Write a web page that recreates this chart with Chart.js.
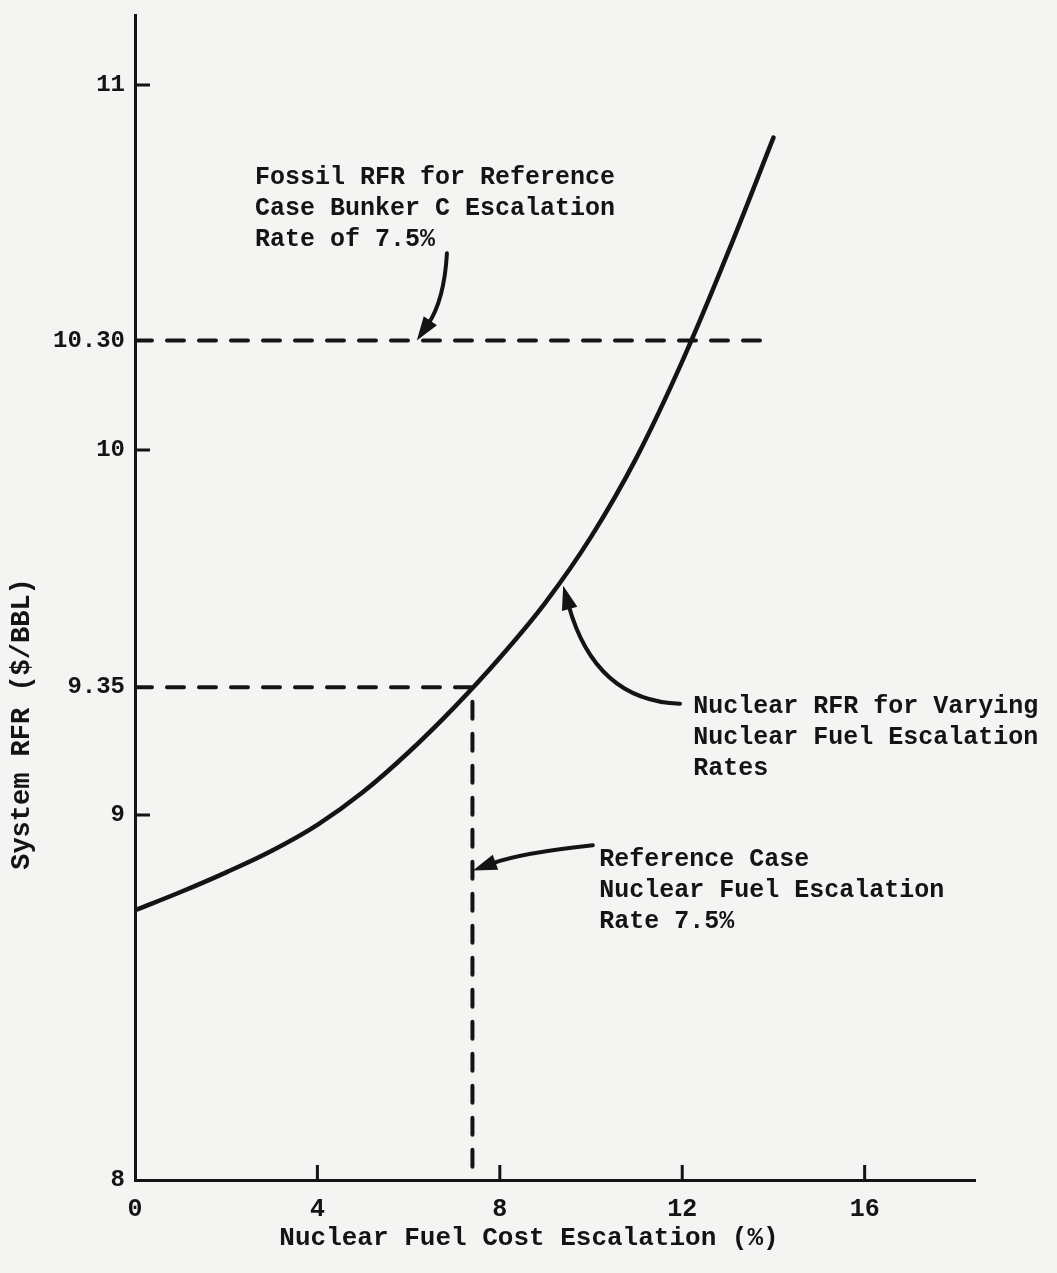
<!DOCTYPE html>
<html>
<head>
<meta charset="utf-8">
<script src="https://cdn.jsdelivr.net/npm/chart.js@4.4.1/dist/chart.umd.min.js"></script>
<style>
  html, body { margin: 0; padding: 0; background: #f4f4f2; }
  canvas { display: block; }
</style>
</head>
<body>
<canvas id="rfr-chart" width="1057" height="1273"></canvas>
<script>
// Nuclear RFR curve
const escalation = [0, 1, 2, 3, 4, 5, 6, 7, 8, 9, 10, 11, 12, 13, 14];
const nuclearRFR = [8.739, 8.789, 8.843, 8.902, 8.973, 9.063, 9.172, 9.295, 9.431, 9.582, 9.762, 9.98, 10.243, 10.54, 10.856];

// Fossil reference line (10.30 $/BBL)
const fossilSpan = [0, 13.9];
const fossilRFR = [10.30, 10.30];

// Reference case crossing
const refPathX = [0, 7.4, 7.4];
const refPathY = [9.35, 9.35, 8];

// Axis ticks
const xTicks = [0, 4, 8, 12, 16];
const xTickMarks = [4, 8, 12, 16];
const yTicks = [8, 9, 9.35, 10, 10.30, 11];
const yTickLabels = ['8', '9', '9.35', '10', '10.30', '11'];
const yTickMarks = [9, 10, 11];

const xTitle = 'Nuclear Fuel Cost Escalation (%)';
const yTitle = 'System RFR ($/BBL)';

// Notes and arrows (data coordinates)
const notes = [
    { lines: ['Fossil RFR for Reference', 'Case Bunker C Escalation', 'Rate of 7.5%'], x: 2.63, y: 10.73 },
    { lines: ['Nuclear RFR for Varying', 'Nuclear Fuel Escalation', 'Rates'], x: 12.24, y: 9.28 },
    { lines: ['Reference Case', 'Nuclear Fuel Escalation', 'Rate 7.5%'], x: 10.18, y: 8.86 }
];
const arrows = [
    { from: [6.84, 10.539], ctrl: [6.78, 10.41], to: [6.18, 10.30] },
    { from: [11.95, 9.305], ctrl: [10.09, 9.313], to: [9.39, 9.628] },
    { from: [10.04, 8.917], ctrl: [8.46, 8.896], to: [7.41, 8.848] }
];

const INK = '#141414';
const FONT = "'Liberation Mono', 'DejaVu Sans Mono', monospace";

const figurePlugin = {
    id: 'figureDecor',
    afterDraw(chart) {
        const ctx = chart.ctx;
        const xs = chart.scales.x;
        const ys = chart.scales.y;
        const area = chart.chartArea;
        ctx.save();
        ctx.strokeStyle = INK;
        ctx.fillStyle = INK;

        // inward tick marks
        ctx.lineWidth = 3;
        ctx.beginPath();
        xTickMarks.forEach(v => {
            const px = xs.getPixelForValue(v);
            ctx.moveTo(px, area.bottom);
            ctx.lineTo(px, area.bottom - 15);
        });
        yTickMarks.forEach(v => {
            const py = ys.getPixelForValue(v);
            ctx.moveTo(area.left, py);
            ctx.lineTo(area.left + 15, py);
        });
        ctx.stroke();

        // arrows
        arrows.forEach(a => {
            const p0 = [xs.getPixelForValue(a.from[0]), ys.getPixelForValue(a.from[1])];
            const c = [xs.getPixelForValue(a.ctrl[0]), ys.getPixelForValue(a.ctrl[1])];
            const p2 = [xs.getPixelForValue(a.to[0]), ys.getPixelForValue(a.to[1])];
            const ang = Math.atan2(p2[1] - c[1], p2[0] - c[0]);
            const len = 24, half = 8;
            const bx = p2[0] - Math.cos(ang) * (len - 4);
            const by = p2[1] - Math.sin(ang) * (len - 4);
            ctx.lineWidth = 4;
            ctx.lineCap = 'round';
            ctx.beginPath();
            ctx.moveTo(p0[0], p0[1]);
            ctx.quadraticCurveTo(c[0], c[1], bx, by);
            ctx.stroke();
            ctx.beginPath();
            ctx.moveTo(p2[0], p2[1]);
            ctx.lineTo(p2[0] - Math.cos(ang) * len + Math.sin(ang) * half,
                       p2[1] - Math.sin(ang) * len - Math.cos(ang) * half);
            ctx.lineTo(p2[0] - Math.cos(ang) * len - Math.sin(ang) * half,
                       p2[1] - Math.sin(ang) * len + Math.cos(ang) * half);
            ctx.closePath();
            ctx.fill();
        });

        // notes
        ctx.font = 'bold 25px ' + FONT;
        ctx.textAlign = 'left';
        ctx.textBaseline = 'alphabetic';
        notes.forEach(n => {
            const px = xs.getPixelForValue(n.x);
            const py = ys.getPixelForValue(n.y);
            n.lines.forEach((line, i) => ctx.fillText(line, px, py + i * 31));
        });

        // axis titles
        ctx.textAlign = 'center';
        ctx.textBaseline = 'middle';
        ctx.font = 'bold 26px ' + FONT;
        ctx.fillText(xTitle, 529, 1238);
        ctx.translate(22, 724);
        ctx.rotate(-Math.PI / 2);
        ctx.font = 'bold 27px ' + FONT;
        ctx.fillText(yTitle, 0, 0);
        ctx.restore();
    }
};

const lineStyle = {
    borderColor: INK,
    pointRadius: 0,
    showLine: true,
    fill: false
};

new Chart(document.getElementById('rfr-chart'), {
    type: 'scatter',
    data: {
        datasets: [
            {
                ...lineStyle,
                label: 'Fossil RFR',
                data: fossilSpan.map((x, i) => ({ x, y: fossilRFR[i] })),
                borderWidth: 4,
                borderDash: [17, 15],
                borderCapStyle: 'round'
            },
            {
                ...lineStyle,
                label: 'Reference case',
                data: refPathX.map((x, i) => ({ x, y: refPathY[i] })),
                borderWidth: 4,
                borderDash: [17, 15],
                borderCapStyle: 'round'
            },
            {
                ...lineStyle,
                label: 'Nuclear RFR',
                data: escalation.map((x, i) => ({ x, y: nuclearRFR[i] })),
                borderWidth: 4.5,
                tension: 0.4,
                borderCapStyle: 'round'
            }
        ]
    },
    options: {
        responsive: false,
        animation: false,
        layout: { padding: { top: 15, right: 82, left: 0, bottom: 0 } },
        plugins: {
            legend: { display: false },
            tooltip: { enabled: false }
        },
        scales: {
            x: {
                type: 'linear',
                min: 0,
                max: 18.42,
                afterFit: s => { s.height = 93; s.paddingLeft = 0; s.paddingRight = 0; },
                afterBuildTicks: s => { s.ticks = xTicks.map(v => ({ value: v })); },
                grid: { display: false, drawTicks: false },
                border: { display: true, width: 3, color: INK },
                ticks: {
                    color: INK,
                    padding: 15,
                    maxRotation: 0,
                    font: { family: FONT, size: 25, weight: 'bold' },
                    callback: v => String(v)
                }
            },
            y: {
                type: 'linear',
                min: 8,
                max: 11.192,
                afterFit: s => { s.width = 135; s.paddingTop = 0; s.paddingBottom = 0; },
                afterBuildTicks: s => { s.ticks = yTicks.map(v => ({ value: v })); },
                grid: { display: false, drawTicks: false },
                border: { display: true, width: 3, color: INK },
                ticks: {
                    color: INK,
                    padding: 10,
                    font: { family: FONT, size: 24, weight: 'bold' },
                    callback: (v) => yTickLabels[yTicks.indexOf(v)] ?? ''
                }
            }
        }
    },
    plugins: [figurePlugin]
});
</script>
</body>
</html>
